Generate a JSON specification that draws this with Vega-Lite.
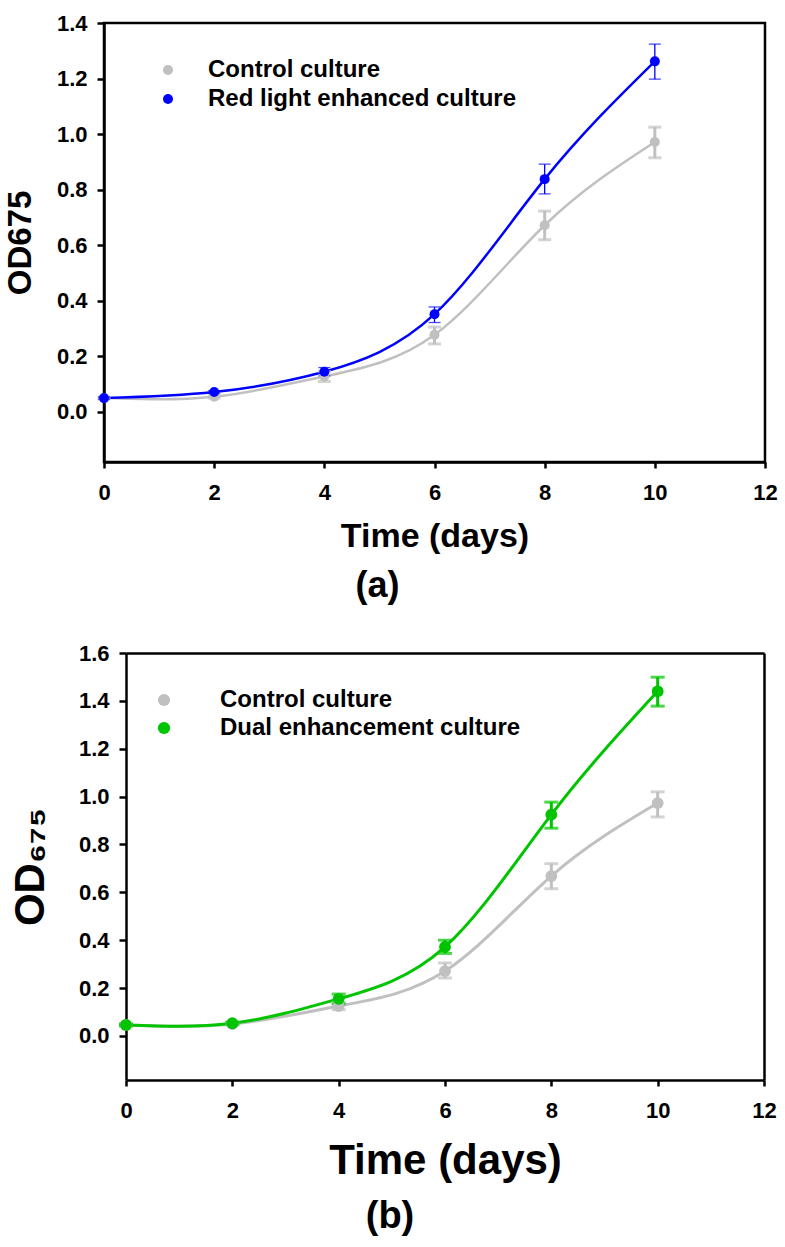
{
  "$schema": "https://vega.github.io/schema/vega-lite/v6.json",
  "padding": {"left": 3, "top": 10, "right": 4, "bottom": 5},
  "background": "white",
  "datasets": {
    "a": [
      {"series": "Control culture", "day": 0, "od": 0.05, "lo": 0.046, "hi": 0.054},
      {"series": "Control culture", "day": 2, "od": 0.055, "lo": 0.05, "hi": 0.06},
      {"series": "Control culture", "day": 4, "od": 0.128, "lo": 0.11, "hi": 0.146},
      {"series": "Control culture", "day": 6, "od": 0.278, "lo": 0.245, "hi": 0.306},
      {"series": "Control culture", "day": 8, "od": 0.672, "lo": 0.62, "hi": 0.723},
      {"series": "Control culture", "day": 10, "od": 0.972, "lo": 0.915, "hi": 1.025},
      {"series": "Red light enhanced culture", "day": 0, "od": 0.05, "lo": 0.046, "hi": 0.054},
      {"series": "Red light enhanced culture", "day": 2, "od": 0.072, "lo": 0.067, "hi": 0.077},
      {"series": "Red light enhanced culture", "day": 4, "od": 0.145, "lo": 0.13, "hi": 0.16},
      {"series": "Red light enhanced culture", "day": 6, "od": 0.352, "lo": 0.322, "hi": 0.378},
      {"series": "Red light enhanced culture", "day": 8, "od": 0.838, "lo": 0.785, "hi": 0.892},
      {"series": "Red light enhanced culture", "day": 10, "od": 1.262, "lo": 1.198, "hi": 1.324}
    ],
    "b": [
      {"series": "Control culture", "day": 0, "od": 0.046, "lo": 0.042, "hi": 0.05},
      {"series": "Control culture", "day": 2, "od": 0.05, "lo": 0.046, "hi": 0.054},
      {"series": "Control culture", "day": 4, "od": 0.125, "lo": 0.11, "hi": 0.14},
      {"series": "Control culture", "day": 6, "od": 0.271, "lo": 0.242, "hi": 0.305},
      {"series": "Control culture", "day": 8, "od": 0.668, "lo": 0.615, "hi": 0.72},
      {"series": "Control culture", "day": 10, "od": 0.973, "lo": 0.915, "hi": 1.02},
      {"series": "Dual enhancement culture", "day": 0, "od": 0.046, "lo": 0.042, "hi": 0.05},
      {"series": "Dual enhancement culture", "day": 2, "od": 0.053, "lo": 0.048, "hi": 0.058},
      {"series": "Dual enhancement culture", "day": 4, "od": 0.155, "lo": 0.134, "hi": 0.175},
      {"series": "Dual enhancement culture", "day": 6, "od": 0.372, "lo": 0.345, "hi": 0.4},
      {"series": "Dual enhancement culture", "day": 8, "od": 0.925, "lo": 0.868, "hi": 0.977},
      {"series": "Dual enhancement culture", "day": 10, "od": 1.44, "lo": 1.378, "hi": 1.499}
    ]
  },
  "concat": [
    {
      "width": 661,
      "height": 439,
      "data": {"name": "a"},
      "title": {"text": "(a)", "orient": "bottom", "fontSize": 36, "fontWeight": "bold", "font": "Liberation Sans", "color": "black", "dx": -57, "offset": 16},
      "encoding": {
        "x": {"field": "day", "type": "quantitative", "scale": {"domain": [0, 12], "nice": false, "zero": false},
          "axis": {"title": "Time (days)", "values": [0, 2, 4, 6, 8, 10, 12], "titleFontSize": 34, "titlePadding": 16, "labelFontSize": 22, "labelPadding": 14, "tickSize": 6}}
      },
      "layer": [
        {"transform": [{"filter": "datum.series === 'Control culture'"}],
          "mark": {"type": "line", "interpolate": "natural", "color": "#c0c0c0", "strokeWidth": 2.5},
          "encoding": {"y": {"field": "od", "type": "quantitative", "title": "OD675", "scale": {"domain": [-0.18, 1.4], "nice": false, "zero": false},
            "axis": {"values": [0, 0.2, 0.4, 0.6, 0.8, 1.0, 1.2, 1.4], "format": ".1f", "titleFontSize": 33, "titlePadding": 19, "labelFontSize": 22, "labelPadding": 10, "tickSize": 7}}}},
        {"transform": [{"filter": "datum.series !== 'Control culture'"}],
          "mark": {"type": "line", "interpolate": "natural", "color": "#0000ff", "strokeWidth": 2.5},
          "encoding": {"y": {"field": "od", "type": "quantitative", "title": "OD675", "scale": {"domain": [-0.18, 1.4], "nice": false, "zero": false}}}},
        {"transform": [{"filter": "datum.series === 'Control culture'"}],
          "mark": {"type": "errorbar", "color": "#c0c0c0", "thickness": 3, "ticks": {"size": 13}},
          "encoding": {"y": {"field": "lo", "type": "quantitative", "title": "OD675", "scale": {"domain": [-0.18, 1.4], "nice": false, "zero": false}}, "y2": {"field": "hi"}}},
        {"transform": [{"filter": "datum.series !== 'Control culture'"}],
          "mark": {"type": "errorbar", "color": "#0000ff", "thickness": 1.3, "ticks": {"size": 12}},
          "encoding": {"y": {"field": "lo", "type": "quantitative", "title": "OD675", "scale": {"domain": [-0.18, 1.4], "nice": false, "zero": false}}, "y2": {"field": "hi"}}},
        {"mark": {"type": "point", "filled": true, "size": 100, "opacity": 1},
          "encoding": {
            "y": {"field": "od", "type": "quantitative", "title": "OD675", "scale": {"domain": [-0.18, 1.4], "nice": false, "zero": false}},
            "color": {"field": "series", "type": "nominal",
              "scale": {"domain": ["Control culture", "Red light enhanced culture"], "range": ["#c0c0c0", "#0000ff"]},
              "legend": {"orient": "none", "legendX": 52, "legendY": 35, "title": null, "labelFontSize": 24, "labelFont": "Liberation Sans", "labelFontWeight": "bold", "labelColor": "black", "labelLimit": 0, "symbolType": "circle", "symbolSize": 100, "labelOffset": 28, "rowPadding": 5, "padding": 0, "symbolStrokeWidth": 0, "symbolOpacity": 1}}
          }}
      ]
    },
    {
      "width": 660,
      "height": 427,
      "data": {"name": "b"},
      "view": {"stroke": null},
      "title": {"text": "(b)", "orient": "bottom", "fontSize": 38, "fontWeight": "bold", "font": "Liberation Sans", "color": "black", "dx": -44, "offset": 17},
      "resolve": {"axis": {"x": "independent", "y": "independent"}},
      "layer": [
        {"transform": [{"filter": "datum.series === 'Control culture'"}],
          "mark": {"type": "line", "interpolate": "natural", "color": "#c0c0c0", "strokeWidth": 3},
          "encoding": {
            "x": {"field": "day", "type": "quantitative", "scale": {"domain": [0, 12], "range": [22, 660], "nice": false, "zero": false},
              "axis": {"title": "Time (days)", "values": [0, 2, 4, 6, 8, 10, 12], "titleFontSize": 42, "titlePadding": 19, "labelFontSize": 22, "labelPadding": 14, "tickSize": 6}},
            "y": {"field": "od", "type": "quantitative", "title": "OD₆₇₅", "scale": {"domain": [-0.184, 1.6], "nice": false, "zero": false},
              "axis": {"offset": -22, "values": [0, 0.2, 0.4, 0.6, 0.8, 1.0, 1.2, 1.4, 1.6], "format": ".1f", "titleFontSize": 42, "titlePadding": 26, "labelFontSize": 22, "labelPadding": 10, "tickSize": 7}}}},
        {"transform": [{"filter": "datum.series !== 'Control culture'"}],
          "mark": {"type": "line", "interpolate": "natural", "color": "#00c400", "strokeWidth": 3},
          "encoding": {
            "x": {"field": "day", "type": "quantitative", "scale": {"domain": [0, 12], "range": [22, 660], "nice": false, "zero": false},
              "axis": {"orient": "top", "labels": false, "ticks": false, "title": null, "domain": true}},
            "y": {"field": "od", "type": "quantitative", "scale": {"domain": [-0.184, 1.6], "nice": false, "zero": false},
              "axis": {"orient": "right", "labels": false, "ticks": false, "title": null, "domain": true}}}},
        {"transform": [{"filter": "datum.series === 'Control culture'"}],
          "mark": {"type": "errorbar", "color": "#c0c0c0", "thickness": 3, "ticks": {"size": 14}},
          "encoding": {
            "x": {"field": "day", "type": "quantitative", "scale": {"domain": [0, 12], "range": [22, 660], "nice": false, "zero": false}, "axis": null},
            "y": {"field": "lo", "type": "quantitative", "scale": {"domain": [-0.184, 1.6], "nice": false, "zero": false}, "axis": null}, "y2": {"field": "hi"}}},
        {"transform": [{"filter": "datum.series !== 'Control culture'"}],
          "mark": {"type": "errorbar", "color": "#00c400", "thickness": 3, "ticks": {"size": 14}},
          "encoding": {
            "x": {"field": "day", "type": "quantitative", "scale": {"domain": [0, 12], "range": [22, 660], "nice": false, "zero": false}, "axis": null},
            "y": {"field": "lo", "type": "quantitative", "scale": {"domain": [-0.184, 1.6], "nice": false, "zero": false}, "axis": null}, "y2": {"field": "hi"}}},
        {"mark": {"type": "point", "filled": true, "size": 140, "opacity": 1},
          "encoding": {
            "x": {"field": "day", "type": "quantitative", "scale": {"domain": [0, 12], "range": [22, 660], "nice": false, "zero": false}, "axis": null},
            "y": {"field": "od", "type": "quantitative", "scale": {"domain": [-0.184, 1.6], "nice": false, "zero": false}, "axis": null},
            "color": {"field": "series", "type": "nominal",
              "scale": {"domain": ["Control culture", "Dual enhancement culture"], "range": ["#c0c0c0", "#00c400"]},
              "legend": {"orient": "none", "legendX": 48, "legendY": 35, "title": null, "labelFontSize": 24, "labelFont": "Liberation Sans", "labelFontWeight": "bold", "labelColor": "black", "labelLimit": 0, "symbolType": "circle", "symbolSize": 150, "labelOffset": 44, "rowPadding": 4, "padding": 0, "symbolStrokeWidth": 0, "symbolOpacity": 1}}
          }}
      ]
    }
  ],
  "columns": 1,
  "spacing": 36,
  "resolve": {"scale": {"color": "independent", "x": "independent", "y": "independent"}},
  "config": {
    "font": "Liberation Sans",
    "view": {"stroke": "black", "strokeWidth": 2.5},
    "axis": {
      "grid": false,
      "domainColor": "black",
      "domainWidth": 2.5,
      "tickColor": "black",
      "tickWidth": 2.5,
      "labelColor": "black",
      "labelFont": "Liberation Sans",
      "labelFontWeight": "bold",
      "labelFlush": false,
      "labelOverlap": false,
      "titleColor": "black",
      "titleFont": "Liberation Sans",
      "titleFontWeight": "bold"
    }
  }
}
